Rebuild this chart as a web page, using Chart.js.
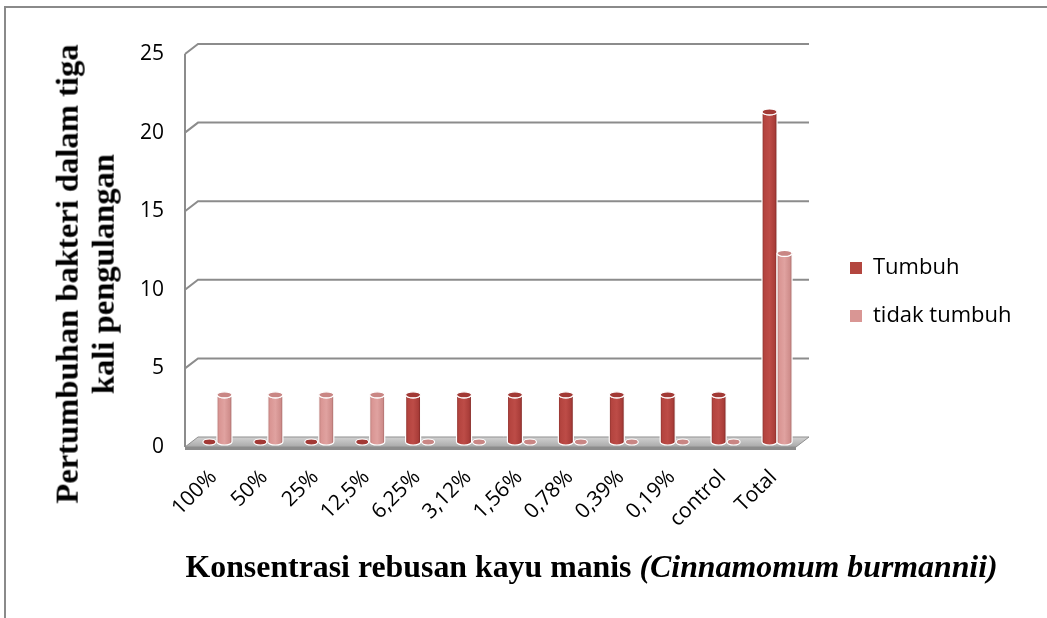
<!DOCTYPE html>
<html>
<head>
<meta charset="utf-8">
<script src="https://cdn.jsdelivr.net/npm/chart.js@4.4.1/dist/chart.umd.min.js"></script>
<style>
  html, body { margin: 0; padding: 0; background: #fff; overflow: hidden; }
  #wrap { position: relative; width: 1047px; height: 618px; }
  #frame { position: absolute; left: 4px; top: 6px; width: 1100px; height: 700px;
           border-top: 2px solid #8a8a8a; border-left: 2px solid #8a8a8a; }
  #chart { position: absolute; left: 0; top: 0; }
  .ttl { position: absolute; font-family: "Liberation Serif", "Times New Roman", serif;
         font-weight: bold; color: #000; white-space: nowrap; }
  #ytitle { text-align: center; line-height: 36px; transform-origin: center center; }
</style>
</head>
<body>
<div id="wrap">
  <div id="frame"></div>
  <canvas id="chart" width="1047" height="618"></canvas>
  <div id="xtitle" class="ttl">Konsentrasi rebusan kayu manis <i>(Cinnamomum burmannii)</i></div>
  <div id="ytitle" class="ttl"><span id="yline1">Pertumbuhan bakteri dalam tiga</span><br><span>kali pengulangan</span></div>
</div>
<script>
// data
var categories = ['100%', '50%', '25%', '12,5%', '6,25%', '3,12%', '1,56%', '0,78%', '0,39%', '0,19%', 'control', 'Total'];
var tumbuh = [0, 0, 0, 0, 3, 3, 3, 3, 3, 3, 3, 21];
var tidakTumbuh = [3, 3, 3, 3, 0, 0, 0, 0, 0, 0, 0, 12];
var seriesNames = ['Tumbuh', 'tidak tumbuh'];
var yTicks = [0, 5, 10, 15, 20, 25];

// depth of the fake 3d box
const DX = 13, DY = -10;

const palettes = [
    { stops: ['#86302c', '#b4443f', '#bd4c47', '#a93d39', '#752321'], top: '#a23935', legend: '#b3463f' },
    { stops: ['#b37673', '#d99593', '#e0a2a0', '#cf8d8b', '#a06462'], top: '#c98684', legend: '#d99694' }
];

function drawCylinder(ctx, bar, pal) {
    const w = bar.width, cx = bar.x + DX / 2;
    const top = bar.y + DY / 2, bottom = bar.base + DY / 2;
    const l = cx - w / 2, r = cx + w / 2, ry = 3;
    ctx.strokeStyle = '#ffffff';
    ctx.lineWidth = 1.2;
    if (bottom - top < 1) {
        ctx.beginPath();
        ctx.ellipse(cx, bottom, w / 2 - 1, ry, 0, 0, Math.PI * 2);
        ctx.fillStyle = pal.top;
        ctx.fill();
        ctx.stroke();
        return;
    }
    const g = ctx.createLinearGradient(l, 0, r, 0);
    g.addColorStop(0, pal.stops[0]);
    g.addColorStop(0.15, pal.stops[1]);
    g.addColorStop(0.5, pal.stops[2]);
    g.addColorStop(0.85, pal.stops[3]);
    g.addColorStop(1, pal.stops[4]);
    ctx.beginPath();
    ctx.moveTo(l, top);
    ctx.lineTo(l, bottom);
    ctx.ellipse(cx, bottom, w / 2, ry, 0, Math.PI, 0, true);
    ctx.lineTo(r, top);
    ctx.ellipse(cx, top, w / 2, ry, 0, 0, Math.PI, false);
    ctx.closePath();
    ctx.fillStyle = g;
    ctx.fill();
    ctx.stroke();
    ctx.beginPath();
    ctx.ellipse(cx, top, w / 2, ry, 0, 0, Math.PI * 2);
    ctx.fillStyle = pal.top;
    ctx.fill();
    ctx.stroke();
}

const box3d = {
    id: 'box3d',
    afterLayout(chart) {
        // move legend next to the plot like the original
        const lg = chart.legend;
        const pad = lg.options.labels.padding;
        const w = lg.width, h = lg.height;
        lg.left = 850 - pad; lg.right = lg.left + w;
        lg.top = 231; lg.bottom = lg.top + h;
    },
    beforeDatasetsDraw(chart) {
        const ctx = chart.ctx, a = chart.chartArea, y = chart.scales.y;
        const x0 = a.left, x1 = a.right, base = y.getPixelForValue(0);
        ctx.save();
        // floor
        ctx.beginPath();
        ctx.moveTo(x0, base);
        ctx.lineTo(x1, base);
        ctx.lineTo(x1 + DX, base + DY);
        ctx.lineTo(x0 + DX, base + DY);
        ctx.closePath();
        const fg = ctx.createLinearGradient(0, base + DY, 0, base);
        fg.addColorStop(0, '#d2d2d2');
        fg.addColorStop(1, '#a9a9a9');
        ctx.fillStyle = fg;
        ctx.fill();
        ctx.strokeStyle = '#8f8f8f';
        ctx.lineWidth = 1;
        ctx.stroke();
        ctx.fillStyle = '#8c8c8c';
        ctx.fillRect(x0, base, x1 - x0, 3);
        // walls and gridlines
        ctx.strokeStyle = '#8c8c8c';
        ctx.lineWidth = 2;
        ctx.beginPath();
        yTicks.forEach(v => {
            if (v === 0) return;
            const py = y.getPixelForValue(v);
            ctx.moveTo(x0, py);
            ctx.lineTo(x0 + DX, py + DY);
            ctx.lineTo(x1 + DX, py + DY);
        });
        ctx.moveTo(x0, y.getPixelForValue(yTicks[yTicks.length - 1]));
        ctx.lineTo(x0, base);
        ctx.stroke();
        // bars
        chart.data.datasets.forEach((ds, i) => {
            chart.getDatasetMeta(i).data.forEach(bar => drawCylinder(ctx, bar, palettes[i]));
        });
        ctx.restore();
        return false;
    }
};

const tickFont = { family: '"Open Sans", sans-serif', size: 21 };

const ctx = document.getElementById('chart');
var myChart = new Chart(ctx, {
    type: 'bar',
    data: {
        labels: categories,
        datasets: [{
            label: seriesNames[0],
            data: tumbuh,
            backgroundColor: palettes[0].legend
        }, {
            label: seriesNames[1],
            data: tidakTumbuh,
            backgroundColor: palettes[1].legend
        }]
    },
    options: {
        responsive: false,
        animation: false,
        events: [],
        categoryPercentage: 0.59,
        barPercentage: 1,
        layout: { padding: { top: 54, right: 251, bottom: 0, left: 0 } },
        plugins: {
            legend: {
                position: 'chartArea',
                align: 'start',
                labels: {
                    boxWidth: 12,
                    boxHeight: 12,
                    padding: 26,
                    color: '#000',
                    font: { family: '"Open Sans", sans-serif', size: 22 }
                }
            },
            tooltip: { enabled: false }
        },
        scales: {
            x: {
                grid: { display: false, drawTicks: false },
                border: { display: false },
                ticks: { font: tickFont, color: '#000', minRotation: 45, maxRotation: 45, autoSkip: false, padding: 18, labelOffset: 3 },
                afterFit: s => { s.height = 171; }
            },
            y: {
                min: 0,
                max: 25,
                grid: { display: false, drawTicks: false },
                border: { display: false },
                ticks: { stepSize: 5, font: tickFont, color: '#000', padding: 21 },
                afterFit: s => { s.width = 185; }
            }
        }
    },
    plugins: [box3d]
});

// axis titles (mixed bold / italic, so kept as html text)
function placeTitles() {
    const xt = document.getElementById('xtitle');
    xt.style.fontSize = '30px';
    let w = xt.offsetWidth;
    let s = 30 * 813 / w;
    xt.style.fontSize = s + 'px';
    xt.style.lineHeight = s + 'px';
    w = xt.offsetWidth;
    xt.style.left = (591.5 - w / 2) + 'px';
    xt.style.top = (578 - 0.8375 * s) + 'px';

    const yt = document.getElementById('ytitle');
    const l1 = document.getElementById('yline1');
    yt.style.fontSize = '30px';
    const w1 = l1.offsetWidth;
    yt.style.fontSize = (30 * 460 / w1) + 'px';
    const bw = yt.offsetWidth, bh = yt.offsetHeight;
    yt.style.left = (84.5 - bw / 2) + 'px';
    yt.style.top = (274 - bh / 2) + 'px';
    yt.style.transform = 'rotate(-90deg)';
}
placeTitles();
</script>
</body>
</html>
